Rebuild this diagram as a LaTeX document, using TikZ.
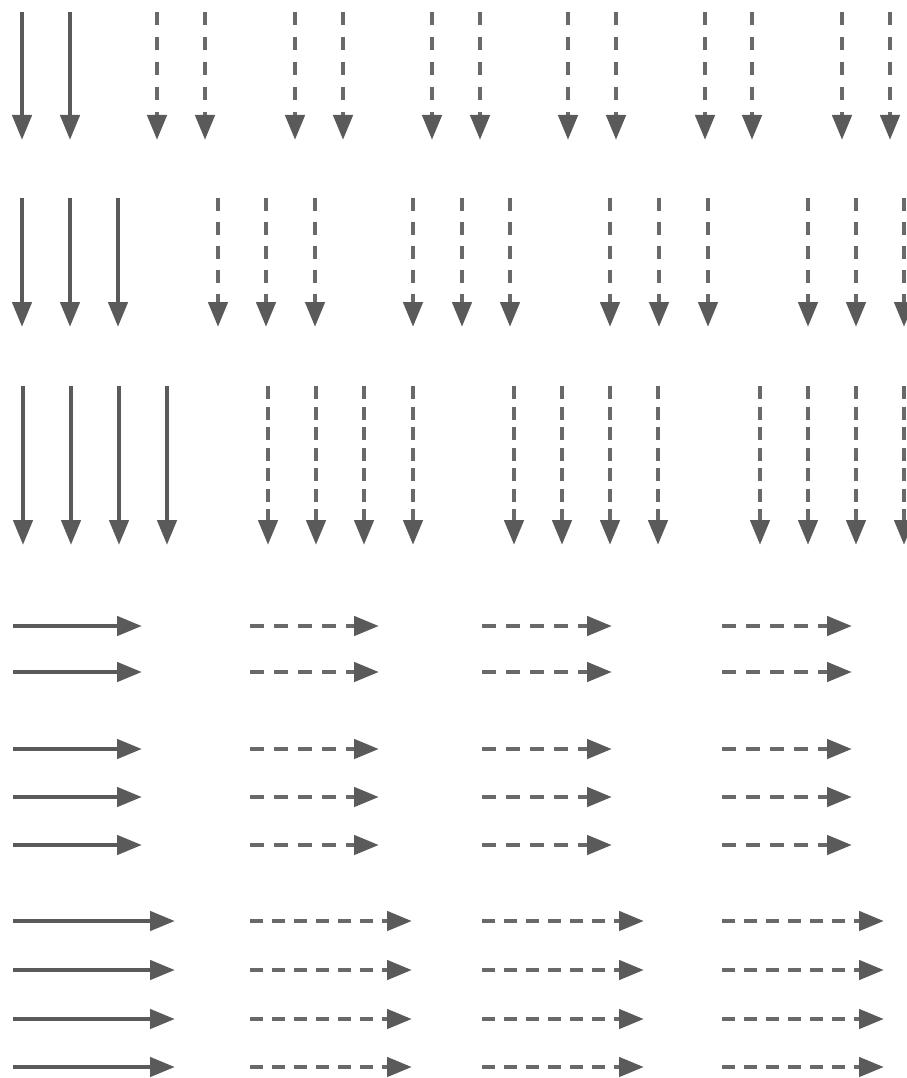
\documentclass[tikz,border=0pt]{standalone}
\usetikzlibrary{arrows.meta}
\definecolor{arrgray}{RGB}{90,90,90}
\definecolor{dashgray}{RGB}{105,105,105}
\begin{document}
\begin{tikzpicture}[x=1pt,y=-1pt,
  arr/.style={draw=arrgray, line width=4.6pt, -{Triangle[length=25pt,width=19pt]}},
  darr/.style={draw=dashgray, line width=4.6pt, -{Triangle[length=25pt,width=19pt,color=arrgray]}},
  vdashA/.style={darr, dash pattern=on 13pt off 12pt},
  vdashB/.style={darr, dash pattern=on 13pt off 11pt},
  vdashC/.style={darr, dash pattern=on 13pt off 7.5pt},
  hdashA/.style={darr, dash pattern=on 14pt off 10pt},
  hdashC/.style={darr, dash pattern=on 13pt off 9pt}]
\useasboundingbox (0,0) rectangle (906,1078);
% Row 1 (vertical, pairs)
\foreach \x in {22,70} \draw[arr] (\x,12) -- (\x,140);
\foreach \x in {157,205,295,343,432,480,568,616,705,752,842,890}
  \draw[vdashA] (\x,12) -- (\x,140);
% Row 2 (vertical, triples)
\foreach \x in {22,70,118} \draw[arr] (\x,198) -- (\x,327);
\foreach \x in {218,266,315,413,462,510,610,659,708,808,856,904}
  \draw[vdashB] (\x,198) -- (\x,327);
% Row 3 (vertical, quadruples)
\foreach \x in {23,71,119,167} \draw[arr] (\x,386) -- (\x,545);
\foreach \x in {268,316,364,413,514,562,610,658,760,808,856,904}
  \draw[vdashC] (\x,386) -- (\x,545);
% Horizontal group A and B
\foreach \y in {626,672,749,797,845} {
  \draw[arr] (13,\y) -- (142,\y);
  \draw[hdashA] (250,\y) -- (379,\y);
  \draw[hdashA] (482,\y) -- (612,\y);
  \draw[hdashA] (722,\y) -- (852,\y);
}
% Horizontal group C
\foreach \y in {921,970,1019,1067} {
  \draw[arr] (13,\y) -- (175,\y);
  \draw[hdashC] (250,\y) -- (412,\y);
  \draw[hdashC] (482,\y) -- (644,\y);
  \draw[hdashC] (722,\y) -- (884,\y);
}
\end{tikzpicture}
\end{document}
